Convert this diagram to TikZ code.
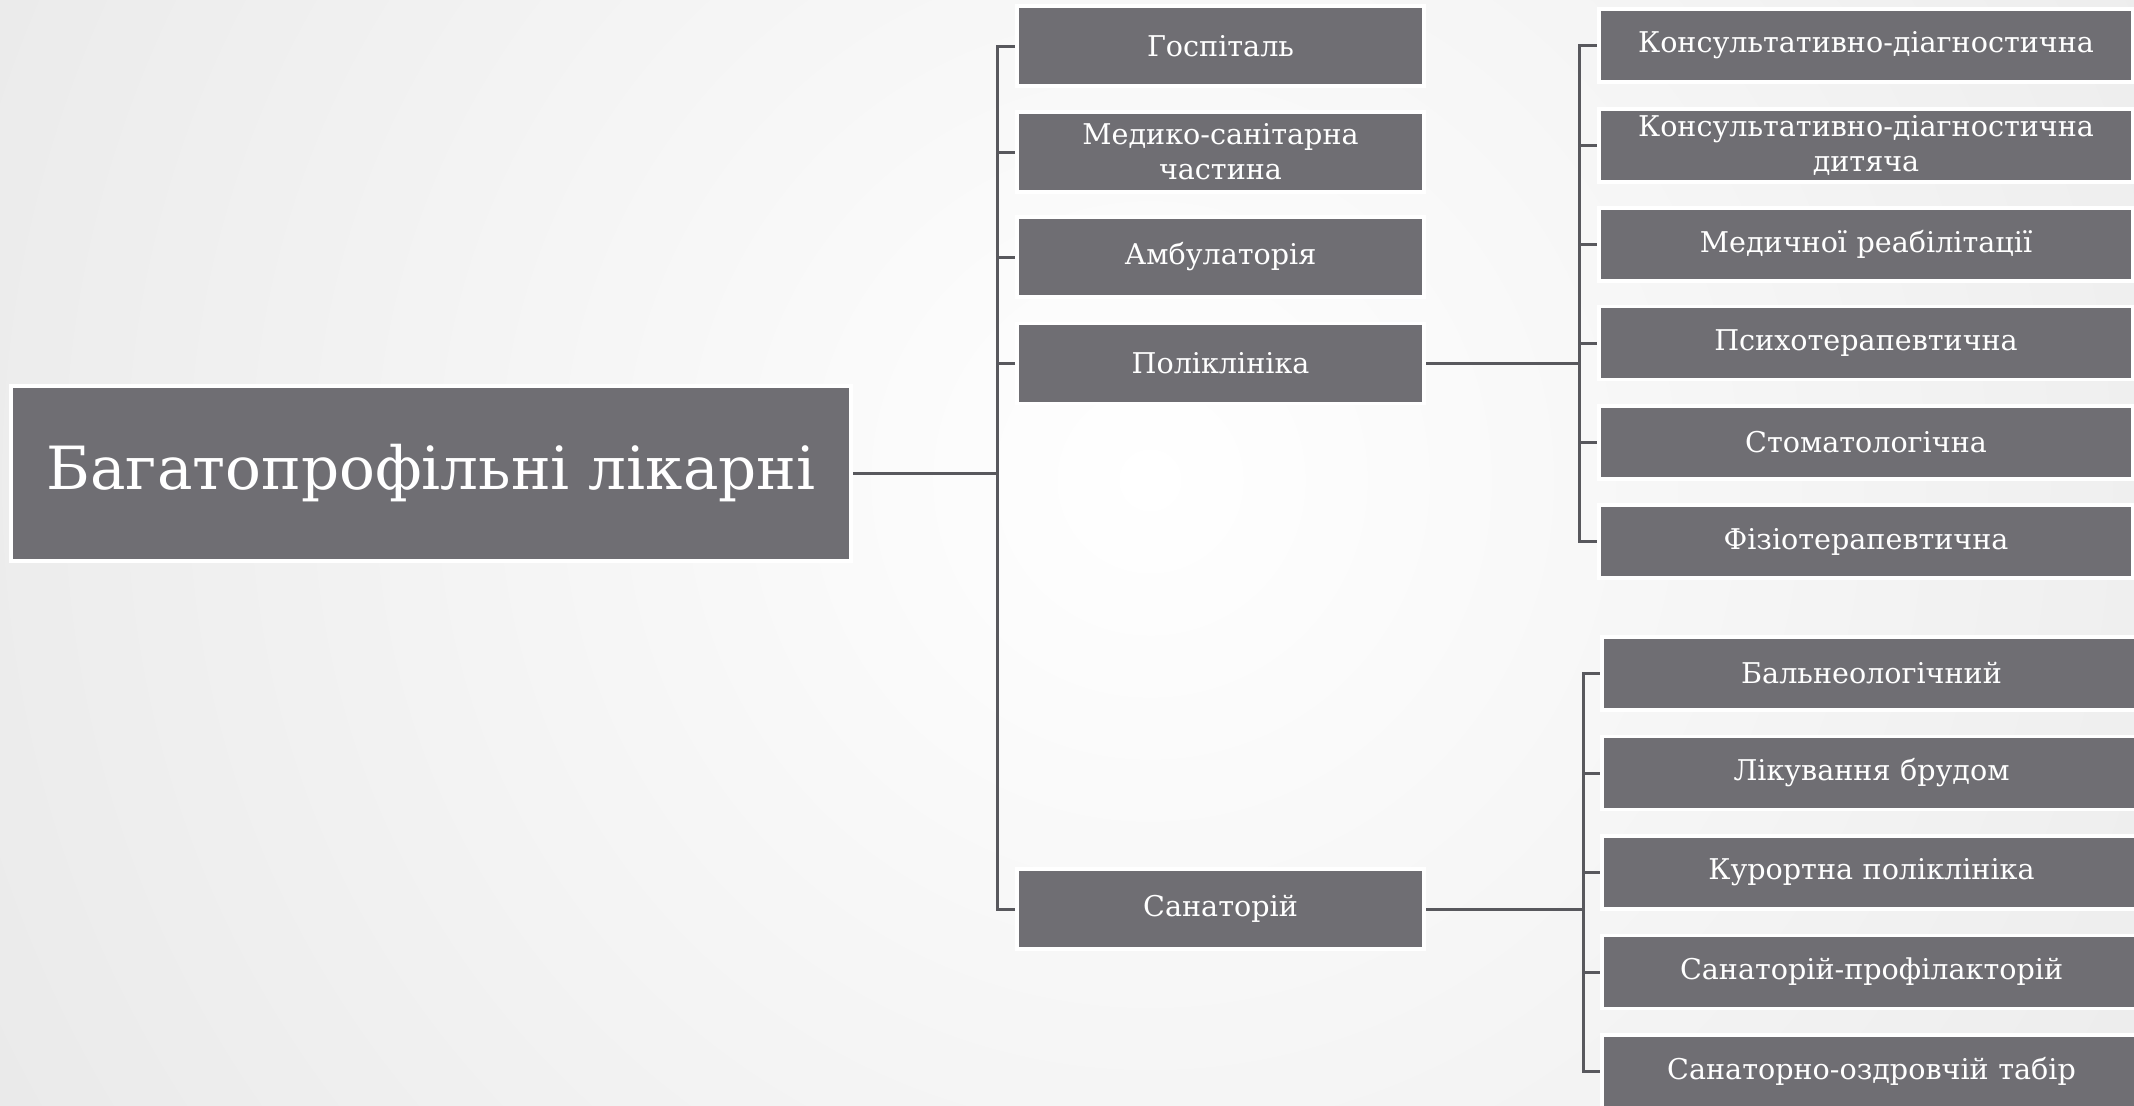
\documentclass[tikz,border=0pt]{standalone}
\usepackage{fontspec}
\setmainfont{DejaVu Serif}
\usetikzlibrary{calc}
\definecolor{boxgray}{HTML}{6F6E73}
\definecolor{linegray}{HTML}{58585D}
\definecolor{bgouter}{HTML}{E2E2E2}
\pgfdeclarelayer{back}
\pgfdeclarelayer{wires}
\pgfsetlayers{back,wires,main}
\begin{document}
\begin{tikzpicture}[x=0.5pt,y=-0.5pt,
  box/.style={rectangle, fill=boxgray, draw=white, line width=1.8pt, text=white, align=center, inner sep=0pt},
  rootbox/.style={box, minimum width=420pt, minimum height=87.5pt, font=\fontsize{29.8}{34}\selectfont},
  midbox/.style={box, minimum width=203.5pt, minimum height=40pt, text width=198pt, font=\fontsize{14.3}{17.5}\selectfont},
  leafbox/.style={box, minimum width=267pt, minimum height=36.5pt, text width=262pt, font=\fontsize{14.3}{17.5}\selectfont},
  leafboxb/.style={leafbox, minimum width=269.5pt},
  conn/.style={draw=linegray, line width=1.5pt}]
\useasboundingbox (0,0) rectangle (2134,1105);
\clip (0,0) rectangle (2134,1105);
\begin{pgfonlayer}{back}
  \fill[bgouter] (0,0) rectangle (2134,1105);
  \shade[inner color=white, outer color=bgouter] (-650,-1320) rectangle (2950,2280);
\end{pgfonlayer}

% root
\node[rootbox] (root) at (431,473.5) {Багатопрофільні лікарні};

% middle column
\node[midbox] (hosp) at (1220.5,46) {Госпіталь};
\node[midbox] (msch) at (1220.5,152) {Медико-санітарна\\частина};
\node[midbox] (amb) at (1220.5,257) {Амбулаторія};
\node[midbox] (pol) at (1220.5,363.5) {Поліклініка};
\node[midbox] (san) at (1220.5,909) {Санаторій};

% polyclinic children
\node[leafbox] (p1) at (1866,45.5) {Консультативно-діагностична};
\node[leafbox] (p2) at (1866,145.5) {Консультативно-діагностична\\дитяча};
\node[leafbox] (p3) at (1866,244.5) {Медичної реабілітації};
\node[leafbox] (p4) at (1866,343) {Психотерапевтична};
\node[leafbox] (p5) at (1866,442.5) {Стоматологічна};
\node[leafbox] (p6) at (1866,541.5) {Фізіотерапевтична};

% sanatorium children
\node[leafboxb] (s1) at (1871.5,673.5) {Бальнеологічний};
\node[leafboxb] (s2) at (1871.5,773) {Лікування брудом};
\node[leafboxb] (s3) at (1871.5,872.5) {Курортна поліклініка};
\node[leafboxb] (s4) at (1871.5,972) {Санаторій-профілакторій};
\node[leafboxb] (s5) at (1871.5,1071.5) {Санаторно-оздровчій табір};

\coordinate (ta) at (997,0);
\coordinate (tb) at (1579.5,0);
\coordinate (tc) at (1583,0);

\begin{pgfonlayer}{wires}
  \foreach \c in {hosp,msch,amb,pol,san}
    \draw[conn] (root.east) -| (ta |- \c.west) -- (\c.west);
  \foreach \c in {p1,p2,p3,p4,p5,p6}
    \draw[conn] (pol.east) -| (tb |- \c.west) -- (\c.west);
  \foreach \c in {s1,s2,s3,s4,s5}
    \draw[conn] (san.east) -| (tc |- \c.west) -- (\c.west);
\end{pgfonlayer}
\end{tikzpicture}
\end{document}
